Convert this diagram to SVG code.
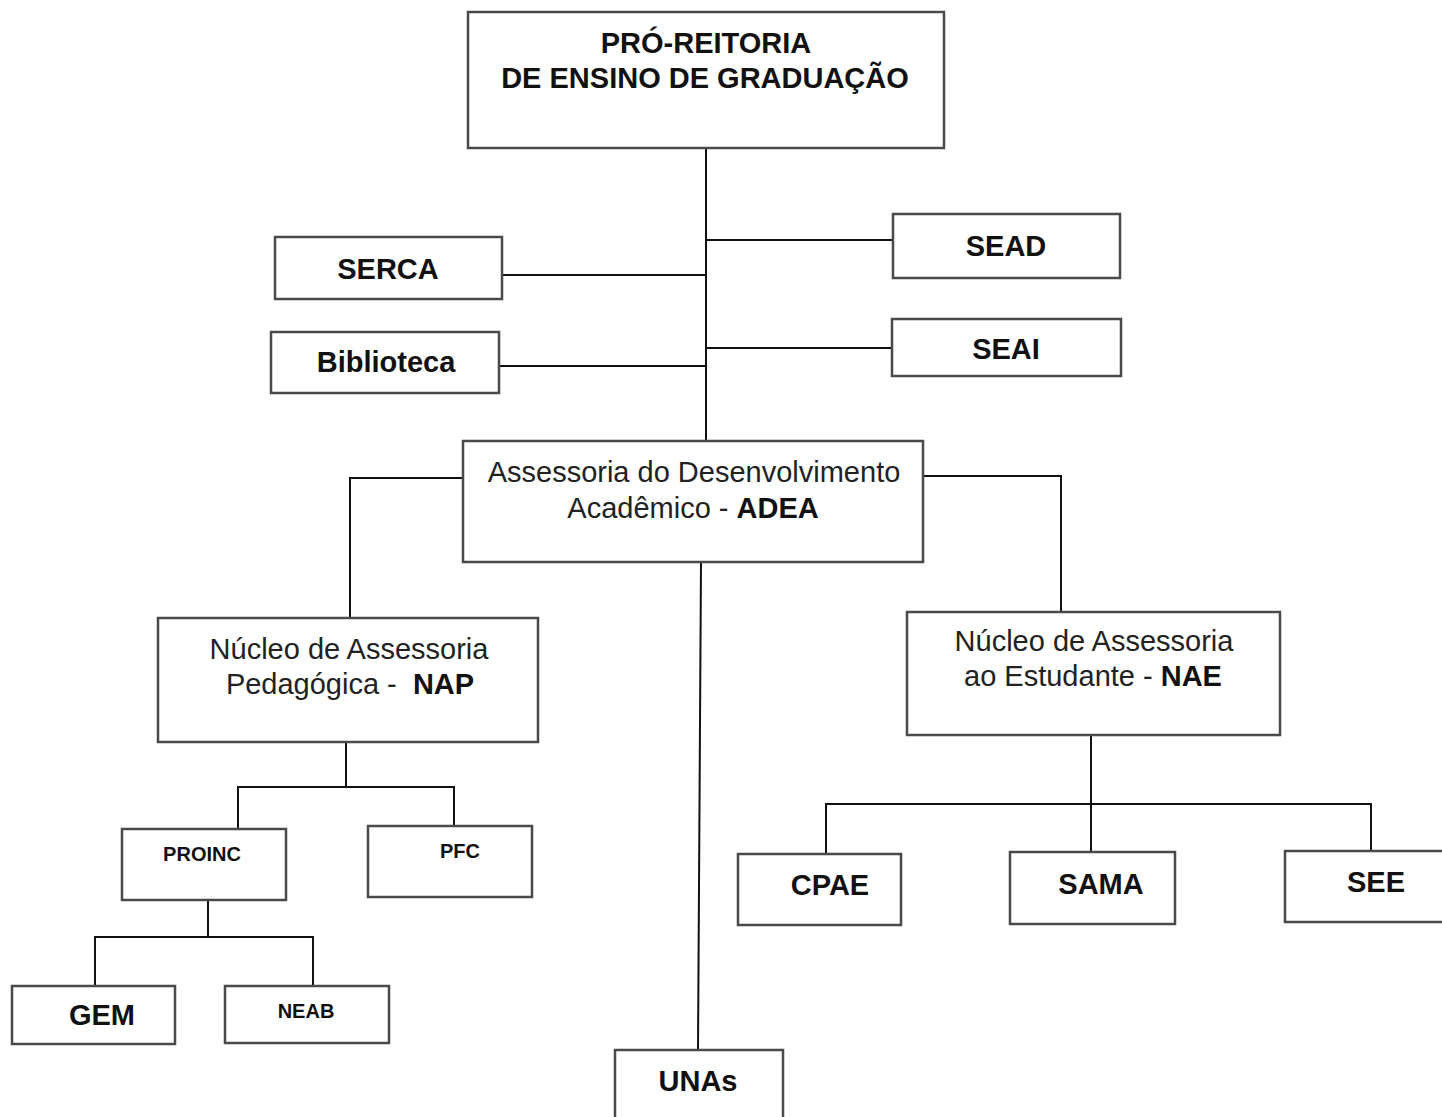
<svg xmlns="http://www.w3.org/2000/svg" width="1442" height="1117" viewBox="0 0 1442 1117">
<style>
.box{fill:#fff;stroke:#4a4a4a;stroke-width:2.5}
.ln{fill:none;stroke:#111;stroke-width:2}
text{font-family:"Liberation Sans",Arial,sans-serif;fill:#111;text-anchor:middle;white-space:pre}
.b{font-weight:bold;font-size:29px}
.r{font-size:29px;fill:#222}
.s{font-weight:bold;font-size:20px}
</style>
<rect width="1442" height="1117" fill="#fff"/>
<g id="connectors">
<path class="ln" d="M706,148 V441"/>
<path class="ln" d="M706,240 H893"/>
<path class="ln" d="M502,275 H706"/>
<path class="ln" d="M499,366 H706"/>
<path class="ln" d="M706,348 H892"/>
<path class="ln" d="M463,478 H350 V618"/>
<path class="ln" d="M923,476 H1061 V612"/>
<path class="ln" d="M701,562 L698,1050"/>
<path class="ln" d="M346,742 V787"/>
<path class="ln" d="M238,829 V787 H454 V826"/>
<path class="ln" d="M208,900 V937"/>
<path class="ln" d="M95,986 V937 H313 V986"/>
<path class="ln" d="M1091,735 V804"/>
<path class="ln" d="M826,854 V804 H1371 V851"/>
<path class="ln" d="M1091,804 V852"/>
</g>
<g id="proreitoria">
<rect class="box" x="468" y="12" width="476" height="136"/>
<text class="b" x="706" y="53">PRÓ-REITORIA</text>
<text class="b" x="705" y="88">DE ENSINO DE GRADUAÇÃO</text>
</g>
<g id="sead">
<rect class="box" x="893" y="214" width="227" height="64"/>
<text class="b" x="1006" y="256">SEAD</text>
</g>
<g id="serca">
<rect class="box" x="275" y="237" width="227" height="62"/>
<text class="b" x="388" y="279">SERCA</text>
</g>
<g id="seai">
<rect class="box" x="892" y="319" width="229" height="57"/>
<text class="b" x="1006" y="359">SEAI</text>
</g>
<g id="biblioteca">
<rect class="box" x="271" y="332" width="228" height="61"/>
<text class="b" x="386" y="372">Biblioteca</text>
</g>
<g id="adea">
<rect class="box" x="463" y="441" width="460" height="121"/>
<text class="r" x="694" y="482">Assessoria do Desenvolvimento</text>
<text class="r" x="693" y="518">Acadêmico - <tspan font-weight="bold" fill="#111">ADEA</tspan></text>
</g>
<g id="nap">
<rect class="box" x="158" y="618" width="380" height="124"/>
<text class="r" x="349" y="659">Núcleo de Assessoria</text>
<text class="r" x="350" y="694">Pedagógica -  <tspan font-weight="bold" fill="#111">NAP</tspan></text>
</g>
<g id="nae">
<rect class="box" x="907" y="612" width="373" height="123"/>
<text class="r" x="1094" y="651">Núcleo de Assessoria</text>
<text class="r" x="1093" y="686">ao Estudante - <tspan font-weight="bold" fill="#111">NAE</tspan></text>
</g>
<g id="proinc">
<rect class="box" x="122" y="829" width="164" height="71"/>
<text class="s" x="202" y="861">PROINC</text>
</g>
<g id="pfc">
<rect class="box" x="368" y="826" width="164" height="71"/>
<text class="s" x="460" y="858">PFC</text>
</g>
<g id="gem">
<rect class="box" x="12" y="986" width="163" height="58"/>
<text class="b" x="102" y="1025">GEM</text>
</g>
<g id="neab">
<rect class="box" x="225" y="986" width="164" height="57"/>
<text class="s" x="306" y="1018">NEAB</text>
</g>
<g id="cpae">
<rect class="box" x="738" y="854" width="163" height="71"/>
<text class="b" x="830" y="895">CPAE</text>
</g>
<g id="sama">
<rect class="box" x="1010" y="852" width="165" height="72"/>
<text class="b" x="1101" y="894">SAMA</text>
</g>
<g id="see">
<rect class="box" x="1285" y="851" width="160" height="71"/>
<text class="b" x="1376" y="892">SEE</text>
</g>
<g id="unas">
<rect class="box" x="615" y="1050" width="168" height="80"/>
<text class="b" x="698" y="1091">UNAs</text>
</g>
</svg>
